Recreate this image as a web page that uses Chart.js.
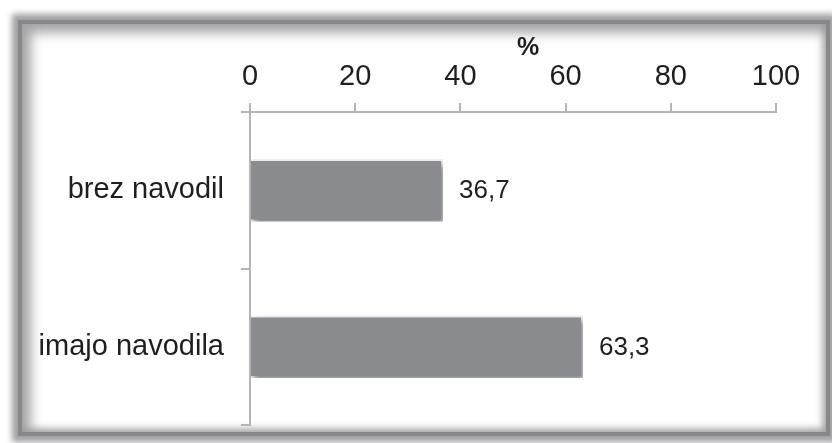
<!DOCTYPE html>
<html>
<head>
<meta charset="utf-8">
<script src="https://cdn.jsdelivr.net/npm/chart.js@4.4.1/dist/chart.umd.min.js"></script>
<style>
  html, body { margin: 0; padding: 0; background: #ffffff; }
  body { width: 832px; height: 443px; position: relative; overflow: hidden; }
  .frame {
    position: absolute;
    left: 18px; top: 20px;
    width: 804px; height: 408px;
    border: 4px solid #88888a;
    box-shadow: 0 0 6px 6px rgba(150,150,152,0.9),
                inset 5px 5px 12px 4px rgba(150,150,152,0.85),
                inset -2px -2px 6px 1px rgba(150,150,152,0.7);
    background: #ffffff;
  }
  #chart { position: absolute; left: 0; top: 0; }
</style>
</head>
<body>
<div class="frame"></div>
<canvas id="chart" width="832" height="443"></canvas>
<script>
// Share of respondents, with and without instructions
const categories = ['brez navodil', 'imajo navodila'];
const values = [36.7, 63.3];
const tickValues = [0, 20, 40, 60, 80, 100];
const axisTitle = '%';

const FONT = '"Liberation Sans", Arial, sans-serif';
const AXIS_GRAY = '#b4b4b4';

// soft drop shadow under the bars
const barShadow = {
  id: 'barShadow',
  beforeDatasetsDraw(chart) {
    const ctx = chart.ctx;
    ctx.save();
    ctx.shadowColor = 'rgba(60,60,60,0.6)';
    ctx.shadowBlur = 6;
    ctx.shadowOffsetX = 3;
    ctx.shadowOffsetY = 4;
  },
  afterDatasetsDraw(chart) {
    chart.ctx.restore();
  }
};

// value labels to the right of each bar, with decimal comma
const valueLabels = {
  id: 'valueLabels',
  afterDraw(chart) {
    const ctx = chart.ctx;
    const meta = chart.getDatasetMeta(0);
    ctx.save();
    ctx.font = '26px ' + FONT;
    ctx.fillStyle = '#1e1e1e';
    ctx.textAlign = 'left';
    ctx.textBaseline = 'middle';
    meta.data.forEach((bar, i) => {
      const txt = values[i].toFixed(1).replace('.', ',');
      ctx.fillText(txt, bar.x + 16, bar.y + 1);
    });
    ctx.restore();
  }
};

// "%" heading above the value axis
const axisHeading = {
  id: 'axisHeading',
  afterDraw(chart) {
    const ctx = chart.ctx;
    const xs = chart.scales.x;
    ctx.save();
    ctx.font = 'bold 25px ' + FONT;
    ctx.fillStyle = '#1e1e1e';
    ctx.textAlign = 'center';
    ctx.textBaseline = 'middle';
    ctx.fillText(axisTitle, (xs.left + xs.right) / 2 + 15, 48);
    ctx.restore();
  }
};

new Chart(document.getElementById('chart'), {
  type: 'bar',
  data: {
    labels: categories,
    datasets: [{
      data: values,
      backgroundColor: '#8a8b8e',
      borderColor: '#f2f2f2',
      borderWidth: 2,
      borderSkipped: 'start',
      barPercentage: 0.4,
      categoryPercentage: 1.0
    }]
  },
  options: {
    indexAxis: 'y',
    responsive: false,
    animation: false,
    layout: { padding: { left: 0, right: 56, top: 0, bottom: 18 } },
    plugins: {
      legend: { display: false },
      tooltip: { enabled: false }
    },
    scales: {
      x: {
        position: 'top',
        min: 0,
        max: 100,
        afterBuildTicks(scale) {
          scale.ticks = tickValues.map(v => ({ value: v }));
        },
        afterFit(scale) { scale.height = 112; },
        grid: {
          drawOnChartArea: false,
          drawTicks: true,
          tickLength: 9,
          color: AXIS_GRAY,
          lineWidth: 2
        },
        border: { display: true, color: AXIS_GRAY, width: 2 },
        ticks: {
          padding: 9,
          color: '#1e1e1e',
          font: { family: FONT, size: 29 }
        }
      },
      y: {
        afterFit(scale) {
          scale.width = 250;
          scale.paddingTop = 0;
          scale.paddingBottom = 0;
        },
        grid: {
          offset: true,
          drawOnChartArea: false,
          drawTicks: true,
          tickLength: 9,
          color: AXIS_GRAY,
          lineWidth: 2
        },
        border: { display: true, color: AXIS_GRAY, width: 2 },
        ticks: {
          padding: 17,
          color: '#1e1e1e',
          font: { family: FONT, size: 29 }
        }
      }
    }
  },
  plugins: [barShadow, valueLabels, axisHeading]
});
</script>
</body>
</html>
